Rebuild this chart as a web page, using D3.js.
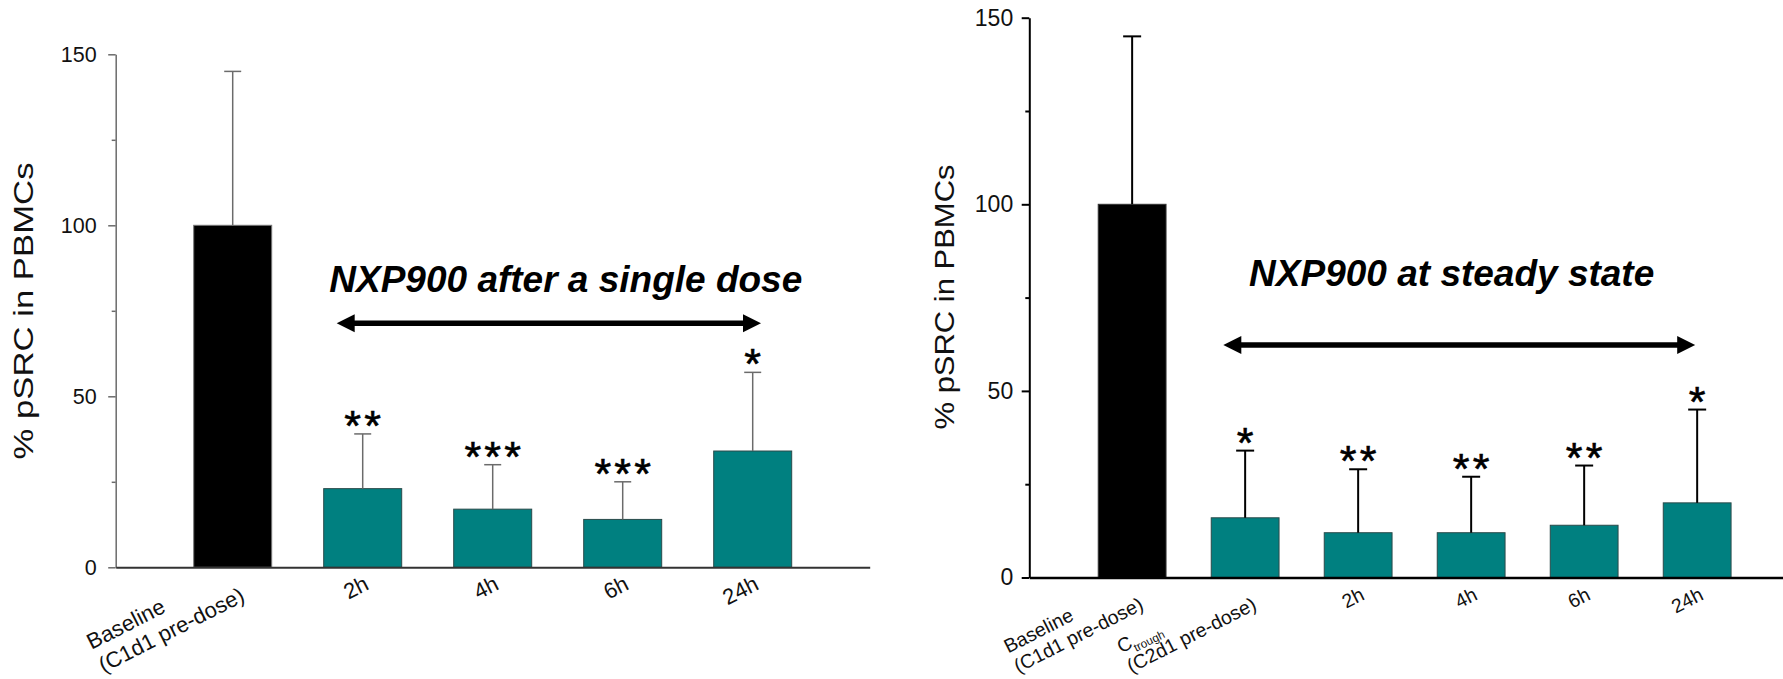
<!DOCTYPE html>
<html>
<head>
<meta charset="utf-8">
<script src="https://cdn.jsdelivr.net/npm/d3@7"></script>
<style>
  body { margin: 0; background: #fff; }
  svg { display: block; }
  text { font-family: "Liberation Sans", Arial, Helvetica, sans-serif; }
</style>
</head>
<body>
<svg id="chart" width="1783" height="679"></svg>
<script>
// ---------------- DATA ----------------
const leftCategories = ["Baseline\n(C1d1 pre-dose)", "2h", "4h", "6h", "24h"];
const leftMeans  = [100, 23, 17, 14, 34];
const leftErrors = [45, 16, 13, 11, 23];
const leftStars  = ["", "**", "***", "***", "*"];
const leftTitle  = "NXP900 after a single dose";

const rightCategories = ["Baseline\n(C1d1 pre-dose)", "C_trough\n(C2d1 pre-dose)", "2h", "4h", "6h", "24h"];
const rightMeans  = [100, 16, 12, 12, 14, 20];
const rightErrors = [45, 18, 17, 15, 16, 25];
const rightStars  = ["", "*", "**", "**", "**", "*"];
const rightTitle  = "NXP900 at steady state";

const yTicks = [0, 50, 100, 150];
const yMinorTicks = [25, 75, 125];
const yLabel = "% pSRC in PBMCs";

// ---------------- DRAWING ----------------
const svg = d3.select("#chart");
const TEAL = "#008080";

function drawPanel(c) {
  const g = svg.append("g");
  const idx = c.cats.map((d, i) => i);
  const x = d3.scaleBand().domain(idx).range([c.x0, c.x1])
    .paddingInner(0.4).paddingOuter(c.padOuter);
  const y = d3.scaleLinear().domain([0, 150]).range(c.yRange);
  const cx = i => x(i) + x.bandwidth() / 2;

  // bars
  g.selectAll("rect.bar").data(c.means).join("rect")
    .attr("class", "bar")
    .attr("x", (d, i) => x(i))
    .attr("width", x.bandwidth())
    .attr("y", d => y(d))
    .attr("height", d => y(0) - y(d))
    .attr("fill", (d, i) => i === 0 ? "#000" : TEAL)
    .attr("stroke", (d, i) => i === 0 ? c.blackStroke : "#2b4a4a")
    .attr("stroke-width", 1);

  // error bars
  const eb = g.selectAll("g.err").data(c.means).join("g").attr("class", "err");
  eb.append("line")
    .attr("x1", (d, i) => cx(i)).attr("x2", (d, i) => cx(i))
    .attr("y1", d => y(d)).attr("y2", (d, i) => y(d + c.errs[i]))
    .attr("stroke", c.errColor).attr("stroke-width", c.errW);
  eb.append("line")
    .attr("x1", (d, i) => cx(i) - c.capW / 2).attr("x2", (d, i) => cx(i) + c.capW / 2)
    .attr("y1", (d, i) => y(d + c.errs[i])).attr("y2", (d, i) => y(d + c.errs[i]))
    .attr("stroke", c.errColor).attr("stroke-width", c.errW);

  // significance stars
  g.selectAll("text.star").data(c.stars).join("text")
    .attr("class", "star")
    .attr("x", (d, i) => cx(i) + c.starSpacing / 2)
    .attr("y", (d, i) => y(c.means[i] + c.errs[i]) + c.starDy)
    .attr("text-anchor", "middle")
    .attr("font-size", c.starFont)
    .attr("letter-spacing", c.starSpacing)
    .attr("stroke", "#000").attr("stroke-width", 0.6)
    .attr("fill", "#000")
    .text(d => d);

  // y axis (major)
  const ya = g.append("g").attr("transform", `translate(${c.x0},0)`)
    .call(d3.axisLeft(y).tickValues(yTicks).tickSize(c.majorLen).tickSizeOuter(0)
      .tickPadding(c.tickPad).tickFormat(d3.format("d")));
  ya.select(".domain").attr("stroke", c.axisColor).attr("stroke-width", c.axisW);
  ya.selectAll(".tick line").attr("stroke", c.axisColor).attr("stroke-width", c.axisW);
  ya.selectAll(".tick text").attr("font-size", c.tickFont).attr("fill", "#111");

  // y axis (minor)
  const ym = g.append("g").attr("transform", `translate(${c.x0},0)`)
    .call(d3.axisLeft(y).tickValues(yMinorTicks).tickSize(c.minorLen).tickSizeOuter(0).tickFormat(""));
  ym.select(".domain").remove();
  ym.selectAll(".tick line").attr("stroke", c.axisColor).attr("stroke-width", c.axisW);

  // x axis line
  const xa = g.append("g").attr("transform", `translate(0,${y(0)})`)
    .call(d3.axisBottom(x).tickSize(0).tickSizeOuter(0).tickFormat(""));
  xa.select(".domain").attr("stroke", c.xAxisColor).attr("stroke-width", c.xAxisW);

  // x category labels (rotated, multi-line, start-aligned)
  c.cats.forEach((cat, i) => {
    const lines = cat.split("\n");
    const n = lines.length;
    const grp = g.append("g")
      .attr("transform", `translate(${cx(i)},${y(0)}) rotate(${c.labelAngle})`);
    const texts = lines.map((ln, j) => {
      const t = grp.append("text")
        .attr("y", c.labelV + (j - (n - 1) / 2) * c.lineH)
        .attr("font-size", c.labelFont)
        .attr("fill", "#111");
      const parts = ln.split("_");
      t.append("tspan").text(parts[0]);
      if (parts.length > 1) {
        t.append("tspan").attr("font-size", c.labelFont * 0.6).attr("dy", c.labelFont * 0.28).text(parts[1]);
      }
      return t;
    });
    const maxLen = d3.max(texts, t => t.node().getComputedTextLength());
    texts.forEach(t => t.attr("x", c.labelU - maxLen));
  });

  // y axis title
  g.append("text")
    .attr("transform", `translate(${c.yLabelX},${c.yLabelY}) rotate(-90)`)
    .attr("text-anchor", "middle")
    .attr("font-size", c.yLabelFont)
    .attr("textLength", c.yLabelLen)
    .attr("lengthAdjust", "spacingAndGlyphs")
    .attr("fill", "#111")
    .text(yLabel);

  // panel title
  g.append("text")
    .attr("x", c.titleX).attr("y", c.titleY)
    .attr("text-anchor", "middle")
    .attr("font-size", 37).attr("font-weight", "bold").attr("font-style", "italic")
    .attr("fill", "#000")
    .text(c.title);

  // double arrow
  const ax1 = cx(1) + c.arrowStartOff;
  const ax2 = cx(c.cats.length - 1) + c.arrowEndOff;
  const ay = c.arrowY, hl = 18, hh = 9;
  g.append("line").attr("x1", ax1 + hl - 2).attr("x2", ax2 - hl + 2)
    .attr("y1", ay).attr("y2", ay).attr("stroke", "#000").attr("stroke-width", 5.5);
  g.append("path").attr("d", `M${ax1},${ay} L${ax1 + hl},${ay - hh} L${ax1 + hl},${ay + hh} Z`).attr("fill", "#000");
  g.append("path").attr("d", `M${ax2},${ay} L${ax2 - hl},${ay - hh} L${ax2 - hl},${ay + hh} Z`).attr("fill", "#000");
}

drawPanel({
  cats: leftCategories, means: leftMeans, errs: leftErrors, stars: leftStars, title: leftTitle,
  x0: 115.7, x1: 869.7, padOuter: 0.6, yRange: [567.3, 54.3],
  axisColor: "#6b6b6b", axisW: 1.5, xAxisColor: "#333", xAxisW: 2,
  errColor: "#6b6b6b", errW: 1.5, capW: 17, blackStroke: "#777",
  majorLen: 7.5, minorLen: 4, tickFont: 21.5, tickPad: 11.5,
  labelFont: 22, lineH: 26, labelV: 22.5, labelU: -3, labelAngle: -27,
  yLabelFont: 27, yLabelLen: 297, yLabelX: 33, yLabelY: 311,
  titleX: 565.8, titleY: 291.7,
  arrowY: 323.3, arrowStartOff: -26, arrowEndOff: 8.3,
  starFont: 43, starSpacing: 3.2, starDy: 6
});

drawPanel({
  cats: rightCategories, means: rightMeans, errs: rightErrors, stars: rightStars, title: rightTitle,
  x0: 1029.3, x1: 1800, padOuter: 0.61, yRange: [577.5, 17.7],
  axisColor: "#000", axisW: 2, xAxisColor: "#000", xAxisW: 2.5,
  errColor: "#000", errW: 2, capW: 18, blackStroke: "#333",
  majorLen: 7.6, minorLen: 4, tickFont: 23, tickPad: 8.5,
  labelFont: 19.5, lineH: 22, labelV: 22.5, labelU: -3, labelAngle: -27,
  yLabelFont: 27, yLabelLen: 265, yLabelX: 954, yLabelY: 297,
  titleX: 1451.7, titleY: 286,
  arrowY: 345, arrowStartOff: -21.8, arrowEndOff: -2,
  starFont: 43, starSpacing: 3.2, starDy: 6
});
</script>
</body>
</html>
